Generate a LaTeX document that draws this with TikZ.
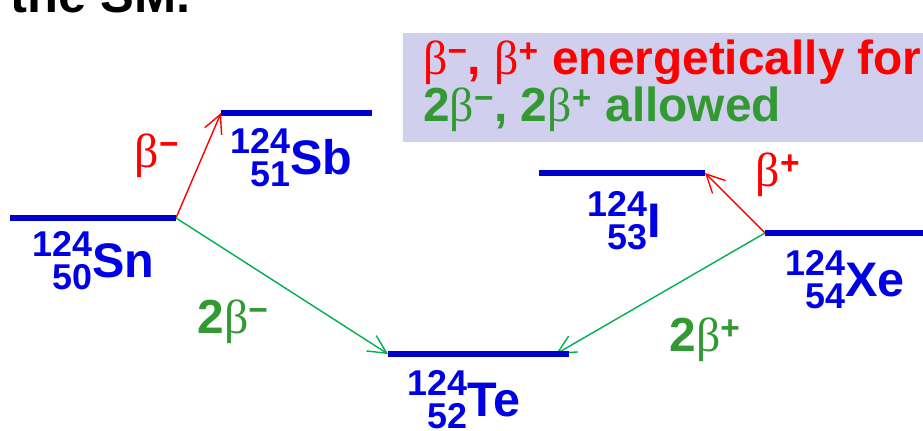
\documentclass[tikz,border=0pt]{standalone}
\usepackage{fontspec}
\setmainfont{Liberation Sans}
\newfontfamily\grkfont{Liberation Serif}
\usetikzlibrary{arrows.meta}

\definecolor{lvlblue}{RGB}{0,0,204}
\definecolor{nucblue}{RGB}{0,0,230}
\definecolor{decred}{RGB}{255,0,0}
\definecolor{dblgreen}{RGB}{51,153,51}
\definecolor{arrgreen}{RGB}{0,176,80}
\definecolor{notefill}{RGB}{208,208,238}

\newcommand{\betasym}{{\grkfont\mdseries β}}
\newcommand{\bminus}{\betasym\textsuperscript{−}}
\newcommand{\bplus}{\betasym\textsuperscript{+}}
\newcommand{\nuc}[3]{{\fontsize{25.5}{20}\selectfont\raisebox{-8.5pt}{\begin{tabular}[b]{@{}r@{}}#1\\#2\end{tabular}}}{\fontsize{34.5}{40}\selectfont#3}}

\tikzset{
  levelline/.style={lvlblue, line width=3.6pt},
  betaarrow/.style={decred, line width=1pt, -{Straight Barb[length=13pt,width=13pt]}},
  dbetaarrow/.style={arrgreen, line width=1pt, -{Straight Barb[length=13pt,width=13pt]}},
  nuclabel/.style={anchor=base west, inner sep=0pt, text=nucblue, font=\bfseries},
  decaylabel/.style={inner sep=0pt, font=\bfseries\fontsize{34}{40}\selectfont},
}

\begin{document}
\begin{tikzpicture}[x=0.025cm, y=-0.025cm]
\useasboundingbox (0,0) rectangle (923,431);

% heading cut at the top
\node[anchor=base west, inner sep=0pt, font=\bfseries\fontsize{36}{40}\selectfont] (head) at (10,13) {the SM.};

% note box
\fill[notefill] (403,33) rectangle (930,142);
\node[anchor=base west, inner sep=0pt, text=decred, font=\bfseries\fontsize{34}{40}\selectfont] (note1) at (423,75) {\bminus, \bplus\ energetically for};
\node[anchor=base west, inner sep=0pt, text=dblgreen, font=\bfseries\fontsize{34}{40}\selectfont] (note2) at (423,122) {2\bminus, 2\bplus\ allowed};

% level ends
\coordinate (sn-l) at (10,218);  \coordinate (sn-r) at (176,218);
\coordinate (sb-l) at (221,113); \coordinate (sb-r) at (372,113);
\coordinate (i-l) at (539,173);  \coordinate (i-r) at (705,173);
\coordinate (xe-l) at (765,233); \coordinate (xe-r) at (923,233);
\coordinate (te-l) at (388,354); \coordinate (te-r) at (569,354);
\coordinate (te-in) at (556,354);

% decays
\draw[betaarrow] (sn-r) -- (sb-l);
\draw[betaarrow] (xe-l) -- (i-r);
\draw[dbetaarrow] (sn-r) -- (te-l);
\draw[dbetaarrow] (xe-l) -- (te-in);

% levels
\draw[levelline] (sn-l) -- (sn-r);
\draw[levelline] (sb-l) -- (sb-r);
\draw[levelline] (i-l) -- (i-r);
\draw[levelline] (xe-l) -- (xe-r);
\draw[levelline] (te-l) -- (te-r);

% nuclides
\node[nuclabel] (sn) at (32,278) {\nuc{124}{50}{Sn}};
\node[nuclabel] (sb) at (230,175) {\nuc{124}{51}{Sb}};
\node[nuclabel] (i) at (587,238) {\nuc{124}{53}{I}};
\node[nuclabel] (xe) at (785,297) {\nuc{124}{54}{Xe}};
\node[nuclabel] (te) at (407,417) {\nuc{124}{52}{Te}};

% decay labels
\node[decaylabel, text=decred] (bm) at (157,156) {\bminus};
\node[decaylabel, text=decred] (bp) at (778,175) {\bplus};
\node[decaylabel, text=dblgreen] (bbm) at (233,322) {2\bminus};
\node[decaylabel, text=dblgreen] (bbp) at (705,340) {2\bplus};
\end{tikzpicture}
\end{document}
